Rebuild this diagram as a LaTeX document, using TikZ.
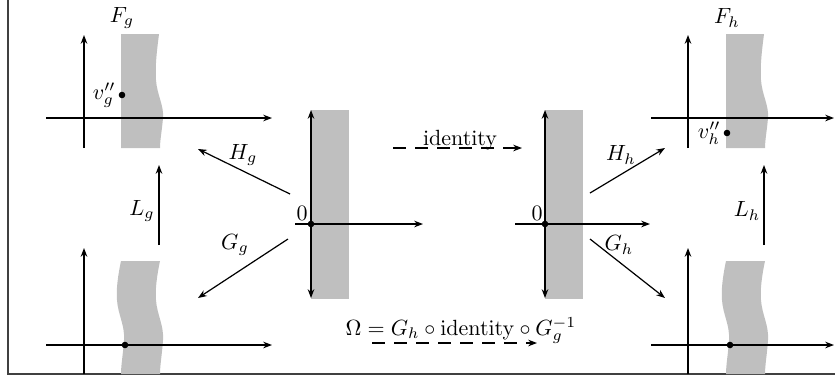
\documentclass[tikz,border=0pt]{standalone}
\usetikzlibrary{arrows.meta}
\begin{document}
\begin{tikzpicture}[x=0.4545pt,y=-0.4545pt,
  axis/.style={line width=0.55pt,-{Stealth[length=4pt,width=3pt]}},
  daxis/.style={line width=0.55pt,{Stealth[length=4pt,width=3pt]}-{Stealth[length=4pt,width=3pt]}},
  maparrow/.style={line width=0.55pt,-{Stealth[length=4pt,width=3pt]}},
  dasharrow/.style={line width=0.55pt,dash pattern=on 6pt off 4pt,-{Stealth[length=4pt,width=3pt]}},
  region/.style={fill=lightgray,draw=none},
  dotnode/.style={circle,fill=black,inner sep=0pt,minimum size=3pt},
  lbl/.style={inner sep=1pt}]
\useasboundingbox (0,0) rectangle (835,381);
% frame
\draw[line width=0.8pt,black!75] (8,0) -- (8,374) -- (835,374);

% ---------- shapes ----------
\newcommand{\topband}{(121,34) -- (159,34) .. controls (157,50) and (155,65) .. (156,80) .. controls (157,95) and (164,105) .. (163,118) .. controls (162,130) and (160,140) .. (160,148) -- (121,148) -- cycle}
\newcommand{\botband}{(121,261) -- (160,261) .. controls (157,275) and (155,290) .. (156,300) .. controls (157,315) and (164,325) .. (163,340) .. controls (162,355) and (160,365) .. (160,374) -- (121,374) .. controls (121,365) and (123,355) .. (124,340) .. controls (125,325) and (118,315) .. (117,300) .. controls (116,290) and (118,275) .. (121,261) -- cycle}
\fill[region] \topband;
\fill[region] \botband;
\begin{scope}[xshift=605*0.4545pt]
\fill[region] \topband;
\fill[region] \botband;
\end{scope}
\fill[region] (311,110) rectangle (349,299);
\fill[region] (545,110) rectangle (583,299);

% ---------- coordinates ----------
% top-left
\coordinate (tlxa) at (46,118); \coordinate (tlxb) at (272,118);
\coordinate (tlya) at (84,148); \coordinate (tlyb) at (84,35);
% bottom-left
\coordinate (blxa) at (46,345); \coordinate (blxb) at (272,345);
\coordinate (blya) at (84,374); \coordinate (blyb) at (84,248);
% middle-left
\coordinate (mlxa) at (295,224); \coordinate (mlxb) at (423,224);
\coordinate (mlya) at (311,298); \coordinate (mlyb) at (311,110);
% middle-right
\coordinate (mrxa) at (515,224); \coordinate (mrxb) at (650,224);
\coordinate (mrya) at (545,298); \coordinate (mryb) at (545,110);
% top-right
\coordinate (trxa) at (651,118); \coordinate (trxb) at (834,118);
\coordinate (trya) at (688,148); \coordinate (tryb) at (688,35);
% bottom-right
\coordinate (brxa) at (651,345); \coordinate (brxb) at (834,345);
\coordinate (brya) at (688,374); \coordinate (bryb) at (688,248);

% ---------- axes ----------
\draw[axis] (tlxa) -- (tlxb);
\draw[axis] (tlya) -- (tlyb);
\draw[axis] (blxa) -- (blxb);
\draw[axis] (blya) -- (blyb);
\draw[axis] (mlxa) -- (mlxb);
\draw[daxis] (mlya) -- (mlyb);
\draw[axis] (mrxa) -- (mrxb);
\draw[daxis] (mrya) -- (mryb);
\draw[axis] (trxa) -- (trxb);
\draw[axis] (trya) -- (tryb);
\draw[axis] (brxa) -- (brxb);
\draw[axis] (brya) -- (bryb);

% ---------- dots and labels ----------
\node[dotnode] (vg) at (122,95) {};
\node[lbl,anchor=east] (vglbl) at (vg.west) {$v''_g$};
\node[dotnode] (vh) at (727,133) {};
\node[lbl,anchor=east] (vhlbl) at (vh.west) {$v''_h$};
\node[dotnode] (bgd) at (125,345) {};
\node[dotnode] (bhd) at (730,345) {};
\node[dotnode] (o1) at (311,224) {};
\node[dotnode] (o2) at (545,224) {};
\node[lbl] (z1) at (302,213) {$0$};
\node[lbl] (z2) at (537,213) {$0$};
\node[lbl] (Fg) at (122,18) {$F_g$};
\node[lbl] (Fh) at (727,18) {$F_h$};

% ---------- maps ----------
\coordinate (Lga) at (159,245); \coordinate (Lgb) at (159,165);
\draw[maparrow] (Lga) -- (Lgb);
\node[lbl] (Lg) at (142,211) {$L_g$};
\coordinate (Lha) at (764,245); \coordinate (Lhb) at (764,165);
\draw[maparrow] (Lha) -- (Lhb);
\node[lbl] (Lh) at (747,211) {$L_h$};

\coordinate (Hga) at (290,194); \coordinate (Hgb) at (198,149);
\draw[maparrow] (Hga) -- (Hgb);
\node[lbl] (Hg) at (243,155) {$H_g$};
\coordinate (Gga) at (288,239); \coordinate (Ggb) at (198,298);
\draw[maparrow] (Gga) -- (Ggb);
\node[lbl] (Gg) at (235,245) {$G_g$};

\coordinate (Hha) at (590,193); \coordinate (Hhb) at (665,148);
\draw[maparrow] (Hha) -- (Hhb);
\node[lbl] (Hh) at (621,155) {$H_h$};
\coordinate (Gha) at (590,239); \coordinate (Ghb) at (665,298);
\draw[maparrow] (Gha) -- (Ghb);
\node[lbl] (Gh) at (619,245) {$G_h$};

\coordinate (ida) at (393,148); \coordinate (idb) at (522,148);
\draw[dasharrow] (ida) -- (idb);
\node[lbl,anchor=base] (idl) at (460,145) {identity};

\coordinate (oma) at (372,343); \coordinate (omb) at (537,343);
\draw[dasharrow] (oma) -- (omb);
\node[lbl,anchor=base] (oml) at (461,335) {$\Omega = G_h\circ\mathrm{identity}\circ G_g^{-1}$};
\end{tikzpicture}
\end{document}
